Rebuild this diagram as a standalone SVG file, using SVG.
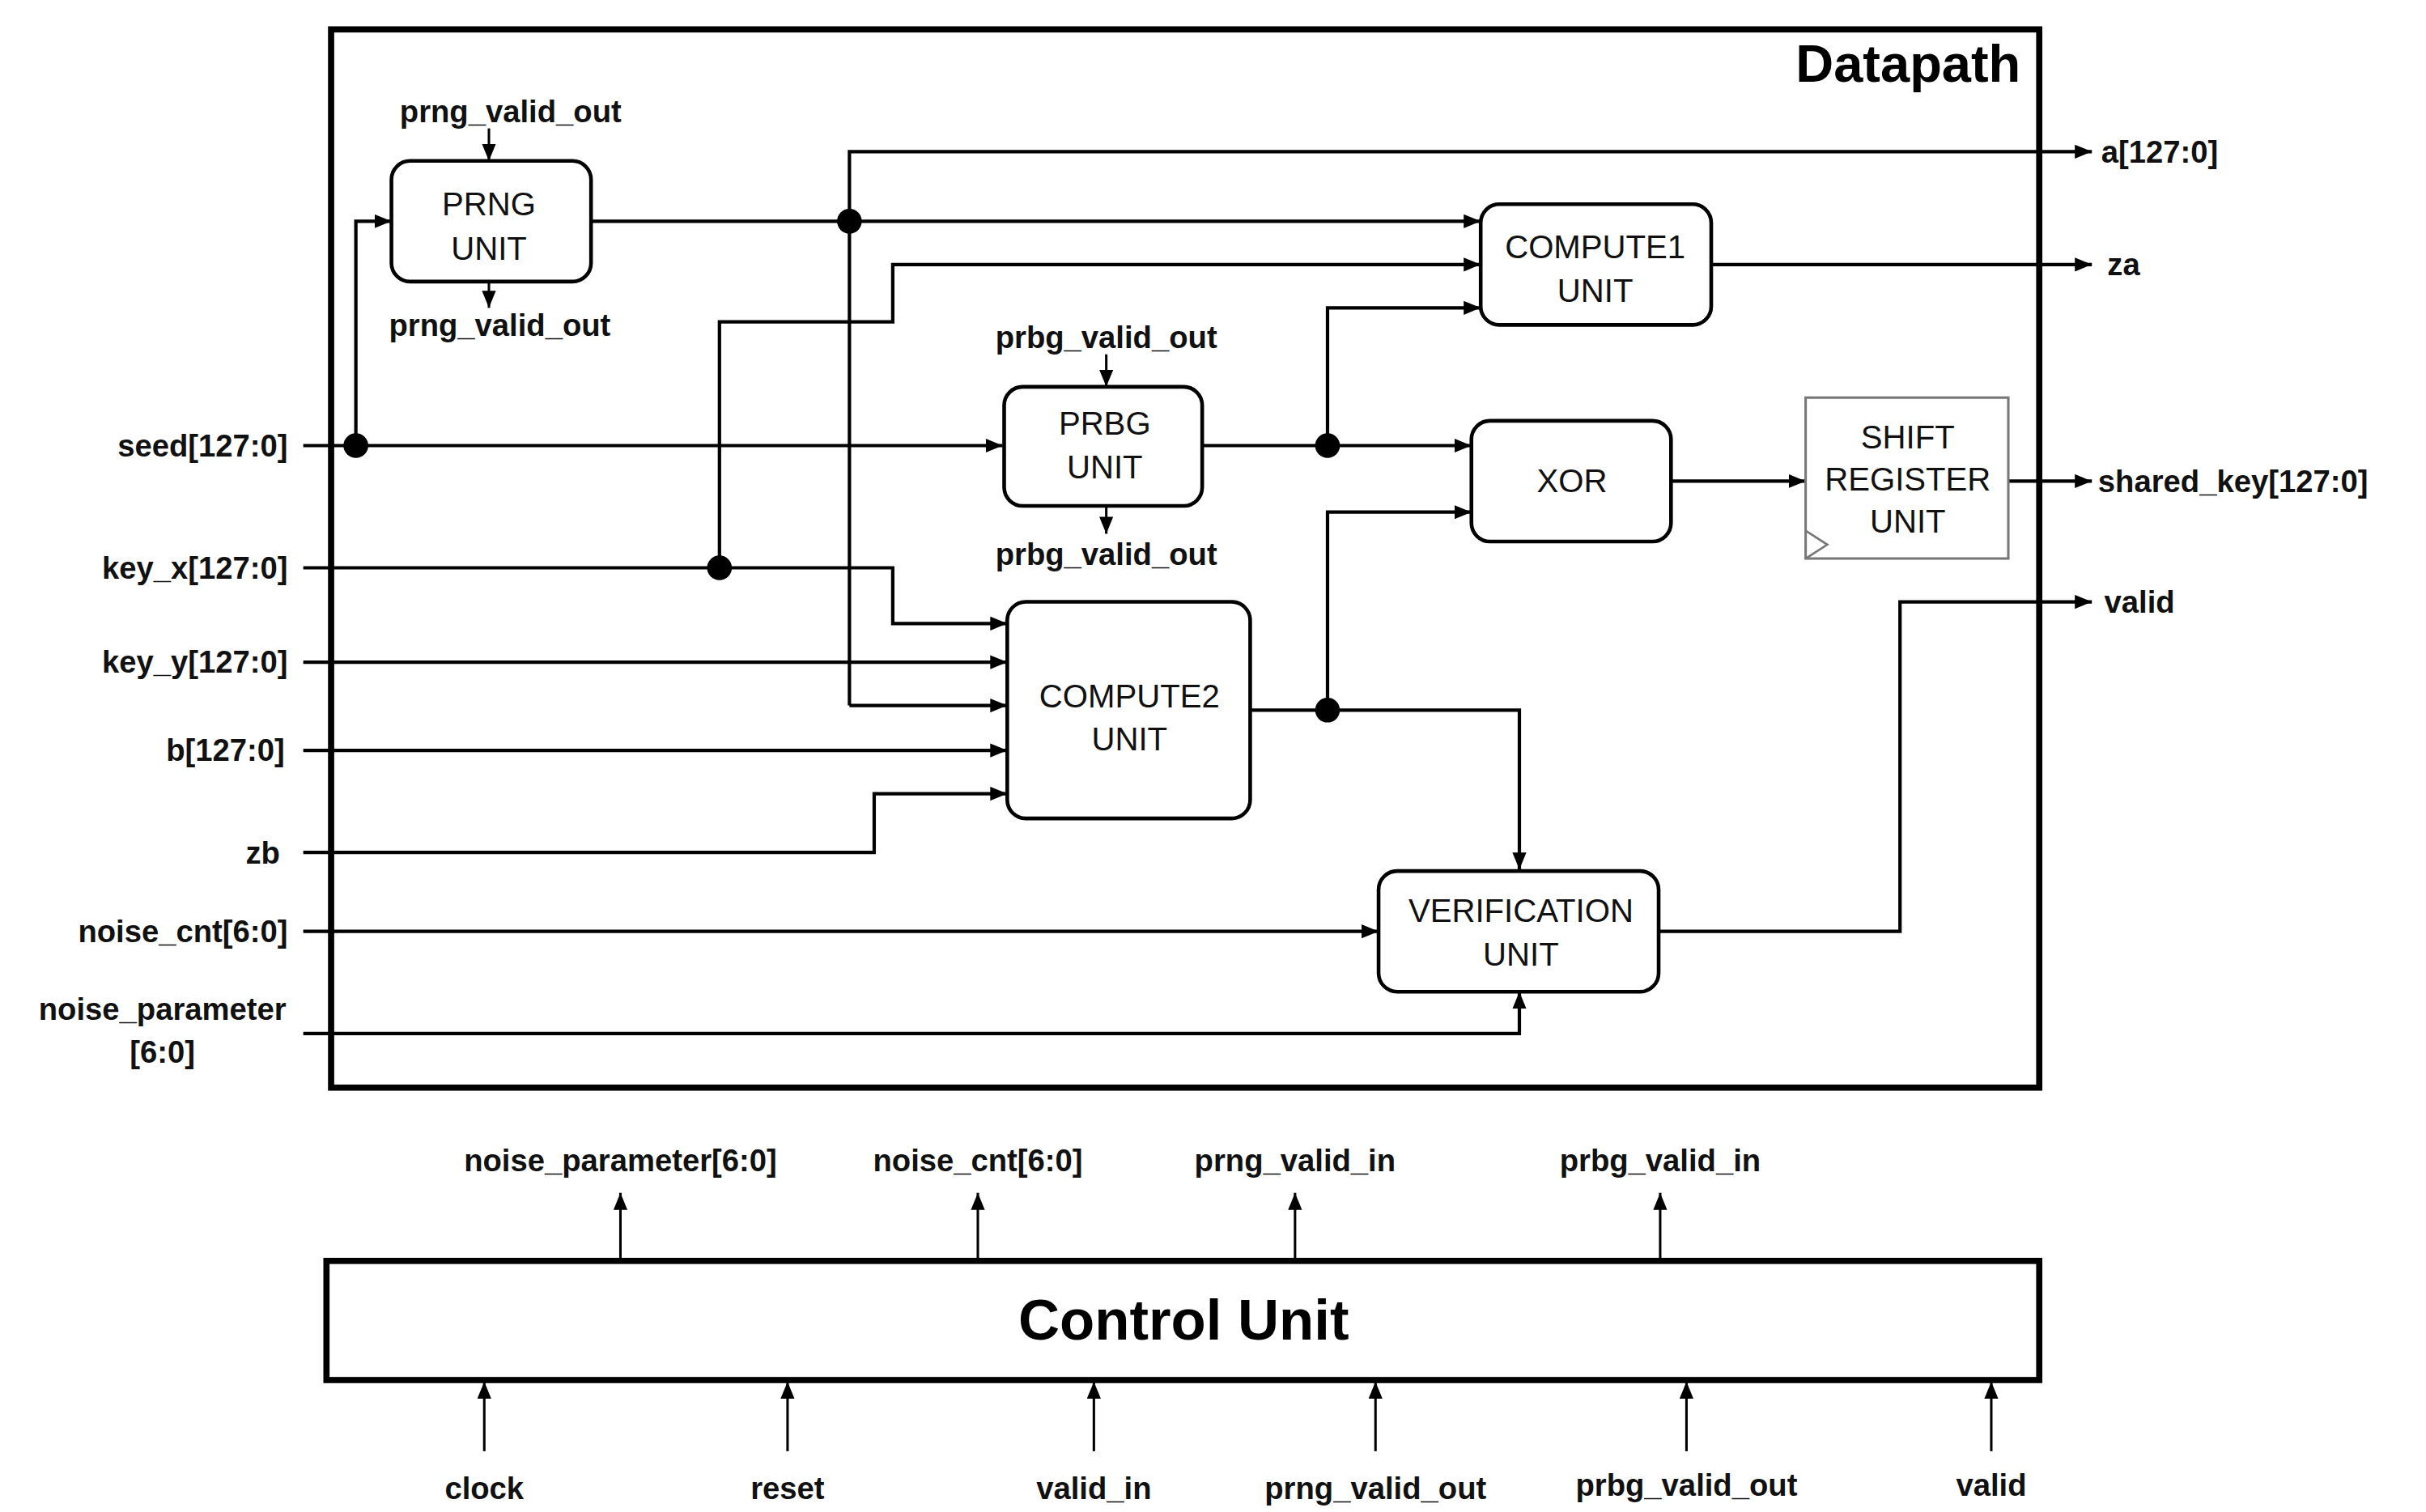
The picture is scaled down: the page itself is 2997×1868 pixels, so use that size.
<svg xmlns="http://www.w3.org/2000/svg" width="2997" height="1868" viewBox="0 0 2997 1868">
<defs>
<marker id="ah" markerUnits="userSpaceOnUse" markerWidth="12" markerHeight="10" refX="11" refY="4.5" orient="auto"><path d="M0,0 L11,4.5 L0,9 Z" fill="#000"/></marker>
<style>
.w{fill:none;stroke:#000;stroke-width:2.2}
.t{fill:none;stroke:#000;stroke-width:1.6}
.box{fill:#fff;stroke:#000;stroke-width:2.4}
.lb{font-family:"Liberation Sans",Arial,sans-serif;font-size:20px;font-weight:bold;fill:#111}
.ut{font-family:"Liberation Sans",Arial,sans-serif;font-size:21px;fill:#111;text-anchor:middle}
.r{text-anchor:end}.m{text-anchor:middle}
</style>
</defs>
<rect width="2997" height="1868" fill="#fff"/>
<g transform="scale(1.9114)">
<g id="datapath"><rect x="214" y="19" width="1104" height="684" fill="none" stroke="#000" stroke-width="4"/>
<text x="1306" y="53" style="font-family:'Liberation Sans',Arial,sans-serif;font-size:34px;font-weight:bold" text-anchor="end">Datapath</text></g>
<g id="connectors">
<path class="w" d="M196,288 H648" marker-end="url(#ah)"/>
<path class="w" d="M230,288 V143 H253" marker-end="url(#ah)"/>
<path class="w" d="M382,143 H957" marker-end="url(#ah)"/>
<path class="w" d="M549,456 V98 H1352" marker-end="url(#ah)"/>
<path class="w" d="M549,456 H651" marker-end="url(#ah)"/>
<path class="w" d="M196,367 H577 V403 H651" marker-end="url(#ah)"/>
<path class="w" d="M465,367 V208 H577 V171 H957" marker-end="url(#ah)"/>
<path class="w" d="M196,428 H651" marker-end="url(#ah)"/>
<path class="w" d="M196,485 H651" marker-end="url(#ah)"/>
<path class="w" d="M196,551 H565 V513 H651" marker-end="url(#ah)"/>
<path class="w" d="M808,459 H982 V562" marker-end="url(#ah)"/>
<path class="w" d="M858,459 V331 H951" marker-end="url(#ah)"/>
<path class="w" d="M777,288 H951" marker-end="url(#ah)"/>
<path class="w" d="M858,288 V199 H957" marker-end="url(#ah)"/>
<path class="w" d="M1080,311 H1167" marker-end="url(#ah)"/>
<path class="w" d="M1298,311 H1352" marker-end="url(#ah)"/>
<path class="w" d="M1106,171 H1352" marker-end="url(#ah)"/>
<path class="w" d="M1072,602 H1228 V389 H1352" marker-end="url(#ah)"/>
<path class="w" d="M196,602 H891" marker-end="url(#ah)"/>
<path class="w" d="M196,668 H982 V641" marker-end="url(#ah)"/>
<path class="t" d="M316,83 V104" marker-end="url(#ah)"/>
<path class="t" d="M316,182 V199" marker-end="url(#ah)"/>
<path class="t" d="M715,229 V250" marker-end="url(#ah)"/>
<path class="t" d="M715,327 V345" marker-end="url(#ah)"/>
<path class="t" d="M401,815 V771" marker-end="url(#ah)"/>
<path class="t" d="M632,815 V771" marker-end="url(#ah)"/>
<path class="t" d="M837,815 V771" marker-end="url(#ah)"/>
<path class="t" d="M1073,815 V771" marker-end="url(#ah)"/>
<path class="t" d="M313,938 V893" marker-end="url(#ah)"/>
<path class="t" d="M509,938 V893" marker-end="url(#ah)"/>
<path class="t" d="M707,938 V893" marker-end="url(#ah)"/>
<path class="t" d="M889,938 V893" marker-end="url(#ah)"/>
<path class="t" d="M1090,938 V893" marker-end="url(#ah)"/>
<path class="t" d="M1287,938 V893" marker-end="url(#ah)"/>
<g fill="#000"><circle cx="230" cy="288" r="8"/><circle cx="549" cy="143" r="8"/><circle cx="465" cy="367" r="8"/><circle cx="858" cy="288" r="8"/><circle cx="858" cy="459" r="8"/></g>
</g>
<g id="prng"><rect class="box" x="253" y="104" width="129" height="78" rx="12"/><text class="ut" x="316" y="139">PRNG</text><text class="ut" x="316" y="168">UNIT</text></g>
<g id="prbg"><rect class="box" x="649" y="250" width="128" height="77" rx="12"/><text class="ut" x="714" y="281">PRBG</text><text class="ut" x="714" y="309">UNIT</text></g>
<g id="compute1"><rect class="box" x="957" y="132" width="149" height="78" rx="12"/><text class="ut" x="1031" y="167">COMPUTE1</text><text class="ut" x="1031" y="195">UNIT</text></g>
<g id="compute2"><rect class="box" x="651" y="389" width="157" height="140" rx="12"/><text class="ut" x="730" y="457">COMPUTE2</text><text class="ut" x="730" y="485">UNIT</text></g>
<g id="xor"><rect class="box" x="951" y="272" width="129" height="78" rx="12"/><text class="ut" x="1016" y="318">XOR</text></g>
<g id="shiftreg"><rect x="1167" y="257" width="131" height="104" fill="#fff" stroke="#777" stroke-width="1.6"/><path d="M1167,343 L1181,352 L1167,361" fill="none" stroke="#777" stroke-width="1.4"/><text class="ut" x="1233" y="290">SHIFT</text><text class="ut" x="1233" y="317">REGISTER</text><text class="ut" x="1233" y="344">UNIT</text></g>
<g id="verification"><rect class="box" x="891" y="563" width="181" height="78" rx="12"/><text class="ut" x="983" y="596">VERIFICATION</text><text class="ut" x="983" y="624">UNIT</text></g>
<g id="control"><rect x="211" y="815" width="1107" height="77" fill="#fff" stroke="#000" stroke-width="4"/><text x="765" y="866" style="font-family:'Liberation Sans',Arial,sans-serif;font-size:37px;font-weight:bold" text-anchor="middle">Control Unit</text></g>
<g id="labels">
<text class="lb m" x="330" y="79">prng_valid_out</text>
<text class="lb m" x="323" y="217">prng_valid_out</text>
<text class="lb m" x="715" y="225">prbg_valid_out</text>
<text class="lb m" x="715" y="365">prbg_valid_out</text>
<text class="lb r" x="186" y="295">seed[127:0]</text>
<text class="lb r" x="186" y="374">key_x[127:0]</text>
<text class="lb r" x="186" y="435">key_y[127:0]</text>
<text class="lb r" x="184" y="492">b[127:0]</text>
<text class="lb r" x="181" y="558">zb</text>
<text class="lb r" x="186" y="609">noise_cnt[6:0]</text>
<text class="lb m" x="105" y="659">noise_parameter</text>
<text class="lb m" x="105" y="687">[6:0]</text>
<text class="lb" x="1358" y="105">a[127:0]</text>
<text class="lb" x="1362" y="178">za</text>
<text class="lb" x="1356" y="318">shared_key[127:0]</text>
<text class="lb" x="1360" y="396">valid</text>
<text class="lb m" x="401" y="757">noise_parameter[6:0]</text>
<text class="lb m" x="632" y="757">noise_cnt[6:0]</text>
<text class="lb m" x="837" y="757">prng_valid_in</text>
<text class="lb m" x="1073" y="757">prbg_valid_in</text>
<text class="lb m" x="313" y="969">clock</text>
<text class="lb m" x="509" y="969">reset</text>
<text class="lb m" x="707" y="969">valid_in</text>
<text class="lb m" x="889" y="969">prng_valid_out</text>
<text class="lb m" x="1090" y="967">prbg_valid_out</text>
<text class="lb m" x="1287" y="967">valid</text>
</g>
</g>
</svg>
